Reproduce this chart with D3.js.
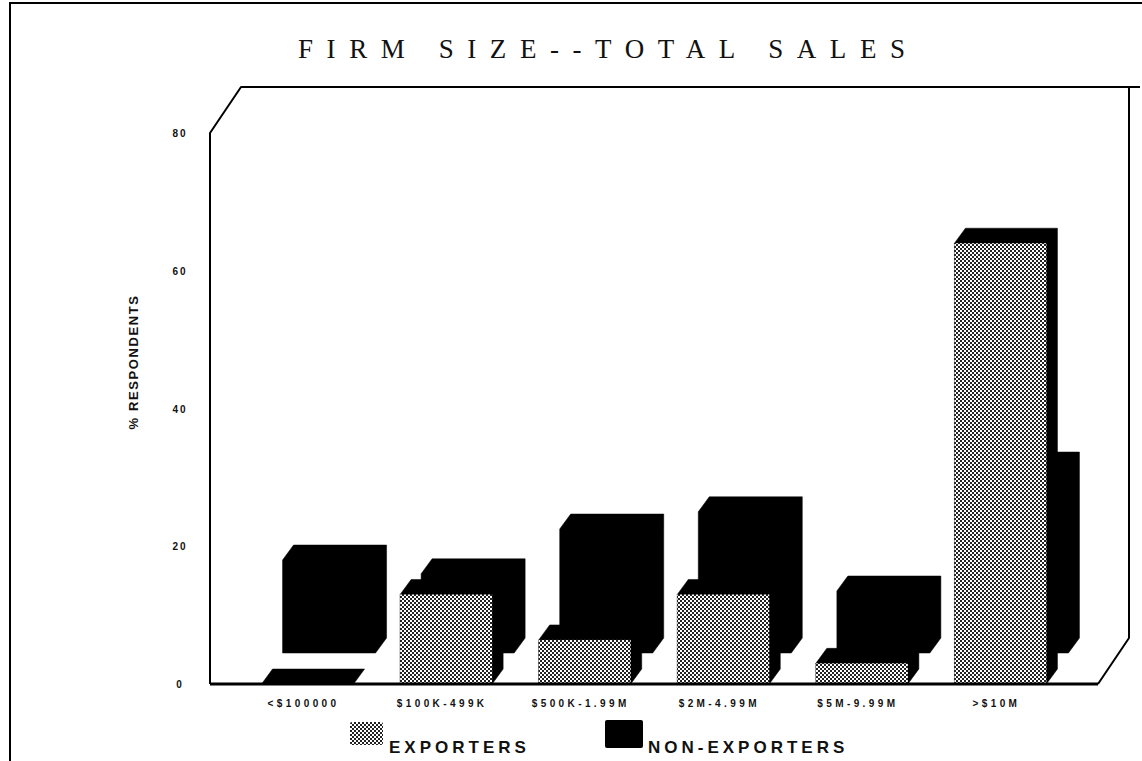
<!DOCTYPE html>
<html>
<head>
<meta charset="utf-8">
<script src="https://cdn.jsdelivr.net/npm/d3@7"></script>
<style>
  html, body { margin: 0; padding: 0; background: #fff; }
  svg { display: block; }
</style>
</head>
<body>
<div id="chart"></div>
<script>
// values (% of respondents)
const categories = ['<$100000', '$100K-499K', '$500K-1.99M', '$2M-4.99M', '$5M-9.99M', '>$10M'];
const exporters = [0, 13, 6.4, 13, 3, 64];
const nonExporters = [13.5, 11.5, 18, 20.5, 9, 27];
const yTicks = [0, 20, 40, 60, 80];
const seriesNames = ['EXPORTERS', 'NON-EXPORTERS'];

const width = 1142, height = 761;
const depth = { x: 11, y: 15 };      // extrusion of each bar
const rowShift = { x: 21, y: 31 };   // back row offset
const wallDepth = { x: 31, y: 46 };  // floor / wall depth

const svg = d3.select('#chart').append('svg')
    .attr('width', width)
    .attr('height', height);

const defs = svg.append('defs');
const pat = defs.append('pattern')
    .attr('id', 'dither')
    .attr('patternUnits', 'userSpaceOnUse')
    .attr('width', 4).attr('height', 4);
pat.append('rect').attr('width', 4).attr('height', 4).attr('fill', '#fff');
pat.append('rect').attr('x', 0).attr('y', 0).attr('width', 2).attr('height', 2).attr('fill', '#222');
pat.append('rect').attr('x', 2).attr('y', 2).attr('width', 2).attr('height', 2).attr('fill', '#222');

const x = d3.scaleBand()
    .domain(categories)
    .range([210, 1098])
    .paddingInner(0.336)
    .paddingOuter(0.372);

const y = d3.scaleLinear()
    .domain([0, 80])
    .range([684, 133]);

// outer page border
svg.append('path')
    .attr('d', `M10,${height} L10,3 L${width},3`)
    .attr('fill', 'none')
    .attr('stroke', '#000')
    .attr('stroke-width', 2);

// title
svg.append('text')
    .attr('x', 298)
    .attr('y', 58)
    .attr('font-family', "'Liberation Serif', 'DejaVu Serif', serif")
    .attr('font-size', 27)
    .attr('textLength', 607)
    .attr('lengthAdjust', 'spacing')
    .attr('fill', '#111')
    .text('FIRM SIZE--TOTAL SALES');

// wall frame
const x0 = x.range()[0], x1 = x.range()[1];
const yBase = y(0), yTop = y(80);
svg.append('path')
    .attr('d', `M${x0},${yBase} L${x0},${yTop} L${x0 + wallDepth.x},${yTop - wallDepth.y} L${width - 2},${yTop - wallDepth.y}`
        + ` M${x1 + wallDepth.x},${yTop - wallDepth.y} L${x1 + wallDepth.x},${yBase - wallDepth.y} L${x1},${yBase}`)
    .attr('fill', 'none')
    .attr('stroke', '#000')
    .attr('stroke-width', 2)
    .attr('stroke-linejoin', 'round');

// a bar = black extruded silhouette + optional front face
function box(g, left, w, top, base, frontFill) {
    const right = left + w;
    g.append('polygon')
        .attr('points', [
            [left, base], [left, top], [left + depth.x, top - depth.y],
            [right + depth.x, top - depth.y], [right + depth.x, base - depth.y], [right, base]
        ].join(' '))
        .attr('fill', '#000')
        .attr('stroke', '#000')
        .attr('stroke-width', 0.5)
        .attr('stroke-linejoin', 'round');
    if (frontFill) {
        g.append('rect')
            .attr('x', left)
            .attr('y', top)
            .attr('width', w)
            .attr('height', base - top)
            .attr('fill', frontFill);
    }
}

// back row: non-exporters
const backRow = svg.append('g').attr('class', 'non-exporters');
categories.forEach((c, i) => {
    box(backRow.append('g'), x(c) + rowShift.x, x.bandwidth() + 1,
        y(nonExporters[i]) - rowShift.y, y(0) - rowShift.y, null);
});

// front row: exporters
const frontRow = svg.append('g').attr('class', 'exporters');
categories.forEach((c, i) => {
    box(frontRow.append('g'), x(c), x.bandwidth(), y(exporters[i]), y(0), 'url(#dither)');
});

// floor front edge
svg.append('line')
    .attr('x1', x0).attr('x2', x1)
    .attr('y1', yBase).attr('y2', yBase)
    .attr('stroke', '#000')
    .attr('stroke-width', 3);

// y tick labels
svg.append('g')
    .selectAll('text')
    .data(yTicks)
    .join('text')
    .attr('x', 180)
    .attr('y', d => y(d) + 4)
    .attr('text-anchor', 'middle')
    .attr('font-family', "'Liberation Sans', Arial, sans-serif")
    .attr('font-weight', 'bold')
    .attr('font-size', 10)
    .attr('letter-spacing', '2px')
    .attr('fill', '#111')
    .text(d => d);

// y axis title
svg.append('text')
    .attr('transform', 'translate(138,362) rotate(-90)')
    .attr('text-anchor', 'middle')
    .attr('font-family', "'Liberation Sans', Arial, sans-serif")
    .attr('font-weight', 'bold')
    .attr('font-size', 13)
    .attr('letter-spacing', '1.6px')
    .attr('fill', '#111')
    .text('% RESPONDENTS');

// category labels
svg.append('g')
    .selectAll('text')
    .data(categories)
    .join('text')
    .attr('x', d => x(d) + x.bandwidth() / 2 - 4)
    .attr('y', 707)
    .attr('text-anchor', 'middle')
    .attr('font-family', "'Liberation Sans', Arial, sans-serif")
    .attr('font-weight', 'bold')
    .attr('font-size', 10)
    .attr('letter-spacing', '3.4px')
    .attr('fill', '#111')
    .text(d => d);

// legend
const legend = svg.append('g').attr('class', 'legend');
const legendItems = [
    { name: seriesNames[0], fill: 'url(#dither)', sx: 350, sy: 722, sw: 33, sh: 23, tx: 389 },
    { name: seriesNames[1], fill: '#000', sx: 605, sy: 720, sw: 38, sh: 28, tx: 648 }
];
legendItems.forEach(d => {
    legend.append('rect')
        .attr('x', d.sx).attr('y', d.sy)
        .attr('width', d.sw).attr('height', d.sh)
        .attr('rx', 2)
        .attr('fill', d.fill);
    legend.append('text')
        .attr('x', d.tx)
        .attr('y', 753)
        .attr('font-family', "'Liberation Sans', Arial, sans-serif")
        .attr('font-weight', 'bold')
        .attr('font-size', 17)
        .attr('letter-spacing', '4px')
        .attr('fill', '#111')
        .text(d.name);
});
</script>
</body>
</html>
